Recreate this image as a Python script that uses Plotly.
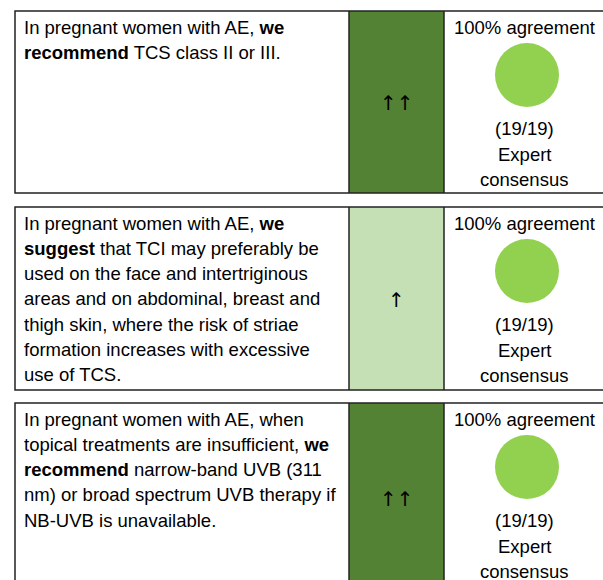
import plotly.graph_objects as go

# -----------------------------
# Data
# -----------------------------
statements = [
    ["In pregnant women with AE, <b>we</b>",
     "<b>recommend</b> TCS class II or III."],
    ["In pregnant women with AE, <b>we</b>",
     "<b>suggest</b> that TCI may preferably be",
     "used on the face and intertriginous",
     "areas and on abdominal, breast and",
     "thigh skin, where the risk of striae",
     "formation increases with excessive",
     "use of TCS."],
    ["In pregnant women with AE, when",
     "topical treatments are insufficient, <b>we</b>",
     "<b>recommend</b> narrow-band UVB (311",
     "nm) or broad spectrum UVB therapy if",
     "NB-UVB is unavailable."],
]
strength = ["↑↑", "↑", "↑↑"]
agreement = ["100% agreement", "100% agreement", "100% agreement"]
votes = ["(19/19)", "(19/19)", "(19/19)"]
evidence = ["Expert<br>consensus", "Expert<br>consensus", "Expert<br>consensus"]

# -----------------------------
# Layout helpers (coordinates are page pixels)
# -----------------------------
W, H = 603, 580
row_top = [11, 207, 403]
row_bot = [193, 390, 592]
col_x = [15, 349, 444, 640]
strength_fill = {"↑↑": "#548235", "↑": "#C5E0B4"}
line_h = 25.3
fsize = 18.5
font = "Liberation Sans, Arial, Helvetica, sans-serif"

fig = go.Figure()
shapes = []
annotations = []

for i in range(len(statements)):
    t, b = row_top[i], row_bot[i]
    # strength column fill
    shapes.append(dict(type="rect", x0=col_x[1], x1=col_x[2], y0=t, y1=b,
                       fillcolor=strength_fill[strength[i]], line=dict(width=0), layer="below"))
    # outer box + column dividers
    shapes.append(dict(type="rect", x0=col_x[0], x1=col_x[3], y0=t, y1=b,
                       line=dict(color="#222222", width=1.5)))
    for cx in col_x[1:3]:
        shapes.append(dict(type="line", x0=cx, x1=cx, y0=t, y1=b,
                           line=dict(color="#222222", width=1.5)))

    # statement text, line by line
    for k, line in enumerate(statements[i]):
        annotations.append(dict(x=22, y=t + 16 + k * line_h, text=line, showarrow=False,
                                xanchor="left", yanchor="middle",
                                font=dict(size=fsize, color="black", family=font)))
    # strength arrows
    annotations.append(dict(x=(col_x[1] + col_x[2]) / 2, y=(t + b) / 2 + 1,
                            text=strength[i], showarrow=False, yanchor="middle",
                            font=dict(size=20, color="black", family="DejaVu Sans, sans-serif")))
    # agreement column
    annotations.append(dict(x=524, y=t + 16, text=agreement[i], showarrow=False,
                            yanchor="middle", font=dict(size=fsize, color="black", family=font)))
    annotations.append(dict(x=524, y=t + 117, text=votes[i], showarrow=False,
                            yanchor="middle", font=dict(size=fsize, color="black", family=font)))
    for k, line in enumerate(evidence[i].split("<br>")):
        annotations.append(dict(x=524, y=t + 143 + k * 25.5, text=line, showarrow=False,
                                yanchor="middle", font=dict(size=fsize, color="black", family=font)))

# agreement circles
fig.add_trace(go.Scatter(
    x=[527] * len(statements),
    y=[t + 64 for t in row_top],
    mode="markers",
    marker=dict(size=64, color="#92D050", line=dict(width=0)),
    hoverinfo="skip",
    showlegend=False,
))

fig.update_layout(
    width=W, height=H,
    margin=dict(l=0, r=0, t=0, b=0),
    paper_bgcolor="white", plot_bgcolor="white",
    shapes=shapes, annotations=annotations,
    xaxis=dict(range=[0, W], visible=False, fixedrange=True),
    yaxis=dict(range=[H, 0], visible=False, fixedrange=True),
    showlegend=False,
)

# drop the default body margin so the figure fills the window
fig.write_html("out.html", config={"displayModeBar": False},
               post_script="document.body.style.margin='0';")
